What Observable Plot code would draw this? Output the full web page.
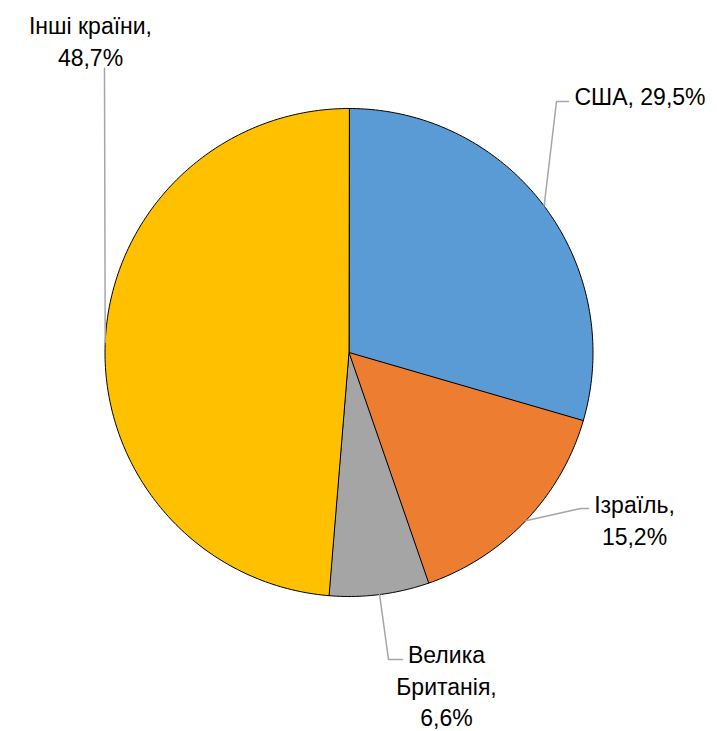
<!DOCTYPE html>
<html><head><meta charset="utf-8">
<script src="https://cdn.jsdelivr.net/npm/d3@7"></script>
<script src="https://cdn.jsdelivr.net/npm/@observablehq/plot@0.6"></script>
<style>body{margin:0;background:#fff}</style>
</head><body><div id="chart"></div>
<script>
// ---- data ----
const countries = ["США", "Ізраїль", "Велика Британія", "Інші країни"];
const shares = [29.5, 15.2, 6.6, 48.7];
const labelTexts = ["США, 29,5%", "Ізраїль,\n15,2%", "Велика\nБританія,\n6,6%", "Інші країни,\n48,7%"];
const sliceColors = ["#5B9BD5", "#ED7D31", "#A5A5A5", "#FFC000"];

// ---- layout (pixels) ----
const W = 717, H = 731, CX = 348.5, CY = 352, R = 244;
// label block centre, leader elbow and leader end, in px
const labelLayout = [
  {tx: 574, ty: 94, anchor: "start", elbow: [556, 101], end: [568, 101]},
  {tx: 634, ty: 518.5, anchor: "middle", elbow: [580, 508], end: [588, 508]},
  {tx: 446, ty: 684, anchor: "middle", elbow: [388, 659], end: [402, 659]},
  {tx: 90, ty: 39.5, anchor: "middle", elbow: [104, 68], end: [104, 68]}
];
const ux = px => (px - CX) / R, uy = py => (CY - py) / R;

// ---- build slices ----
const arcs = d3.pie().sort(null).value(d => d)(shares);
const slicePts = [];
arcs.forEach((a, i) => {
  const n = Math.max(8, Math.ceil((a.endAngle - a.startAngle) / (2 * Math.PI) * 400));
  slicePts.push({name: countries[i], x: 0, y: 0});
  for (let k = 0; k <= n; k++) {
    const t = a.startAngle + (a.endAngle - a.startAngle) * k / n;
    slicePts.push({name: countries[i], x: Math.sin(t), y: Math.cos(t)});
  }
});

const leaderPts = [];
const labelData = [];
arcs.forEach((a, i) => {
  const m = (a.startAngle + a.endAngle) / 2;
  const L = labelLayout[i];
  leaderPts.push({name: countries[i], x: Math.sin(m), y: Math.cos(m)});
  leaderPts.push({name: countries[i], x: ux(L.elbow[0]), y: uy(L.elbow[1])});
  leaderPts.push({name: countries[i], x: ux(L.end[0]), y: uy(L.end[1])});
  labelData.push({name: countries[i], text: labelTexts[i], x: ux(L.tx), y: uy(L.ty), anchor: L.anchor});
});

const textMark = anchor => Plot.text(labelData.filter(d => d.anchor === anchor), {
  x: "x", y: "y", text: "text", textAnchor: anchor, lineAnchor: "middle",
  lineHeight: 1.37, fontSize: 23, fill: "#000"
});

const chart = Plot.plot({
  width: W, height: H,
  margin: 0,
  x: {domain: [ux(0), ux(W)], axis: null},
  y: {domain: [uy(H), uy(0)], axis: null},
  color: {domain: countries, range: sliceColors},
  style: {fontFamily: "'Liberation Sans', Arial, sans-serif", background: "#fff", overflow: "visible"},
  marks: [
    Plot.line(slicePts, {x: "x", y: "y", z: "name", fill: "name", stroke: "#000", strokeWidth: 1, curve: "linear-closed", strokeLinejoin: "round"}),
    Plot.line(leaderPts, {x: "x", y: "y", z: "name", stroke: "#A6A6A6", strokeWidth: 1.5}),
    textMark("start"),
    textMark("middle")
  ]
});
document.getElementById("chart").appendChild(chart);
</script>
</body></html>
